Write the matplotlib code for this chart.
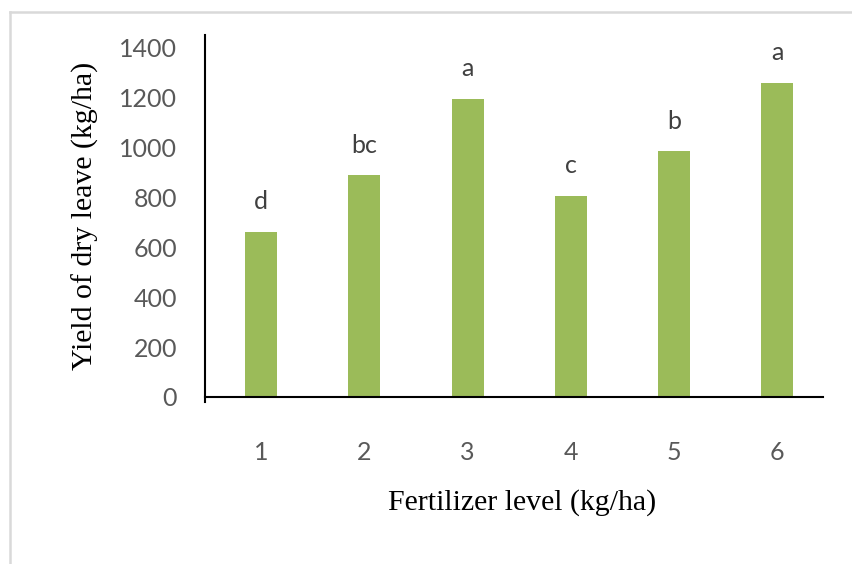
import matplotlib.pyplot as plt
from matplotlib.lines import Line2D

# data
levels = ['1', '2', '3', '4', '5', '6']
yield_dry = [661, 889, 1195, 806, 985, 1259]
letters = ['d', 'bc', 'a', 'c', 'b', 'a']

bar_color = '#9BBB59'
tick_color = '#595959'
letter_color = '#404040'

fig = plt.figure(figsize=(8.52, 5.64), dpi=100)
ax = fig.add_axes([205/852, 1-397/564, 618/852, 362/564])

x = list(range(len(levels)))
ax.bar(x, yield_dry, width=0.31, color=bar_color)

# significance letters above each bar
for xi, v, lt in zip(x, yield_dry, letters):
    ax.annotate(lt, (xi, v), xytext=(0, 21.6), textcoords='offset points',
                ha='center', va='center', fontsize=18, family='Lato',
                color=letter_color)

ax.set_xlim(-0.545, 5.443)
ax.set_ylim(0, 1450)
ax.set_yticks(range(0, 1401, 200))
ax.set_xticks(x)
ax.set_xticklabels(levels)

for s in ['top', 'right']:
    ax.spines[s].set_visible(False)
ax.spines['left'].set_linewidth(1.5)
ax.spines['bottom'].set_linewidth(1.5)
ax.spines['left'].set_bounds(-22, 1450)

ax.tick_params(axis='y', length=0, pad=20, labelsize=18, labelcolor=tick_color)
ax.tick_params(axis='x', length=0, pad=32, labelsize=18, labelcolor=tick_color)
for lab in ax.get_xticklabels() + ax.get_yticklabels():
    lab.set_family('Lato')

fig.text(85/852, 1-216/564, 'Yield of dry leave (kg/ha)', rotation=90,
         ha='center', va='center', fontsize=21.5, family='Liberation Serif')
fig.text(522/852, 1-503/564, 'Fertilizer level (kg/ha)',
         ha='center', va='center', fontsize=21.5, family='Liberation Serif')

# light frame around the chart area
fig.add_artist(Line2D([9.5/852, 9.5/852], [0, 1-12/564], color='#d9d9d9', lw=1.8))
fig.add_artist(Line2D([9.5/852, 1], [1-12/564, 1-12/564], color='#d9d9d9', lw=1.8))

fig.savefig('out.png', dpi=100)
